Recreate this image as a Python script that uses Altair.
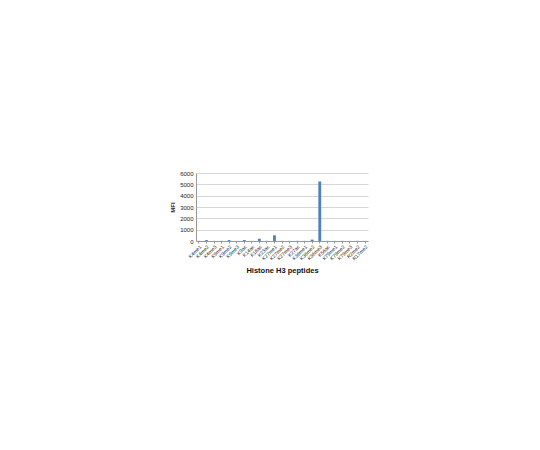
import altair as alt
import pandas as pd

peptides = ["K4me1", "K4me2", "K4me3", "K9me1", "K9me2", "K9me3", "K9ac",
            "K14ac", "K18ac", "K23ac", "K27me1", "K27me2", "K27me3", "K27ac",
            "K36me1", "K36me2", "K36me3", "K56ac", "K79me1", "K79me2",
            "K79me3", "R2me2", "R17me2"]
mfi = [15, 80, 10, 12, 80, 10, 90, 12, 200, 15, 500, 12, 10, 15,
       12, 120, 5250, 15, 10, 12, 10, 12, 10]

df = pd.DataFrame({"peptide": peptides, "mfi": mfi})

chart = alt.Chart(df).mark_bar(color="#4F81BD").encode(
    x=alt.X("peptide:N", sort=peptides,
            scale=alt.Scale(paddingInner=0.62, paddingOuter=0.2),
            axis=alt.Axis(title="Histone H3 peptides", labelAngle=-45,
                          labelFontSize=5, labelFont="Arial",
                          labelColor="#222222", titleFont="Arial",
                          titleFontSize=7.5, titleFontWeight="bold",
                          titleColor="#111111", titlePadding=6,
                          domainColor="#999999", tickColor="#999999",
                          tickSize=2, labelPadding=1, grid=False)),
    y=alt.Y("mfi:Q", scale=alt.Scale(domain=[0, 6000]),
            axis=alt.Axis(title="MFI", values=[0, 1000, 2000, 3000, 4000, 5000, 6000],
                          format="d",
                          labelFontSize=6, labelFont="Arial",
                          labelColor="#222222", titleFont="Arial",
                          titleFontSize=6, titleFontWeight="bold",
                          titleColor="#111111", titlePadding=4,
                          domainColor="#999999", tickSize=0,
                          gridColor="#bbbbbb", gridWidth=0.6,
                          labelPadding=3)),
).properties(
    width=172, height=68,
    autosize=alt.AutoSizeParams(type="none"),
    padding={"left": 188, "top": 165, "right": 60, "bottom": 120},
).configure_view(stroke=None)

chart.save("out.html", embed_options={"renderer": "svg", "actions": False})
